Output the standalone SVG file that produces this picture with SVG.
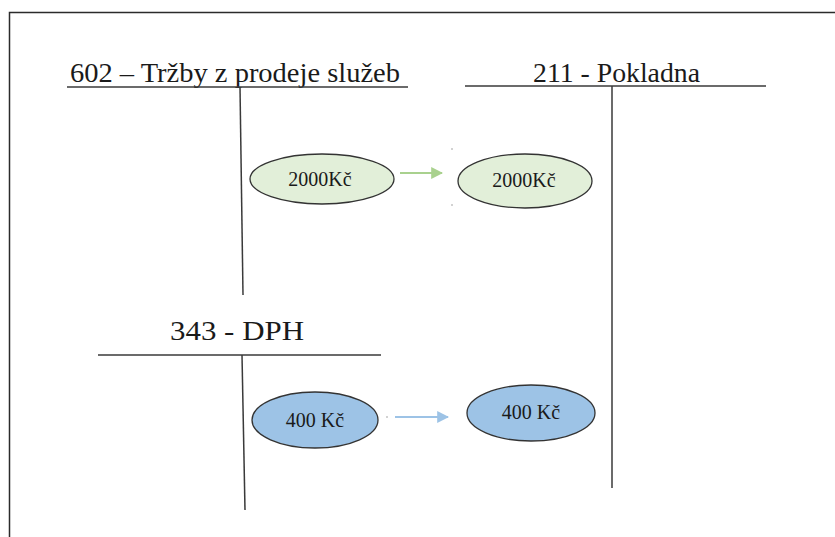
<svg xmlns="http://www.w3.org/2000/svg" width="835" height="537" viewBox="0 0 835 537">
  <style>
    .frame { fill: none; stroke: #2b2b2b; stroke-width: 1.5; }
    .acct { fill: none; stroke: #3a3a3a; stroke-width: 1.5; }
    .title { font-family: "Liberation Serif", "Times New Roman", serif; font-size: 28px; fill: #1a1a1a; }
    .amt { font-family: "Liberation Serif", "Times New Roman", serif; font-size: 20px; fill: #1a1a1a; text-anchor: middle; }
    .green { fill: #e2efd9; stroke: #333; stroke-width: 1.3; }
    .blue { fill: #9dc3e6; stroke: #333; stroke-width: 1.3; }
    .arrow-g { stroke: #a9d18e; stroke-width: 2; fill: none; }
    .arrow-b { stroke: #9dc3e6; stroke-width: 2; fill: none; }
    .dot { fill: #9a9a9a; }
  </style>
  <defs>
    <marker id="head-g" viewBox="0 0 10 10" refX="9" refY="5" markerWidth="6" markerHeight="6" markerUnits="strokeWidth" orient="auto">
      <path d="M0,0 L10,5 L0,10 z" fill="#a9d18e"/>
    </marker>
    <marker id="head-b" viewBox="0 0 10 10" refX="9" refY="5" markerWidth="6" markerHeight="6" markerUnits="strokeWidth" orient="auto">
      <path d="M0,0 L10,5 L0,10 z" fill="#9dc3e6"/>
    </marker>
  </defs>

  <rect width="835" height="537" fill="#ffffff"/>

  <!-- outer frame (top and left edges) -->
  <path class="frame" d="M9.5,537 V12.5 H835"/>

  <!-- T-account 602 -->
  <g id="acct-602">
    <text class="title" x="70" y="82" textLength="330" lengthAdjust="spacingAndGlyphs">602 – Tržby z prodeje služeb</text>
    <line class="acct" x1="67" y1="87" x2="408" y2="87"/>
    <line class="acct" x1="240" y1="87" x2="243" y2="295"/>
  </g>

  <!-- T-account 211 -->
  <g id="acct-211">
    <text class="title" x="533" y="82" textLength="167" lengthAdjust="spacingAndGlyphs">211 - Pokladna</text>
    <line class="acct" x1="465" y1="86" x2="766" y2="86"/>
    <line class="acct" x1="612" y1="86" x2="612" y2="488"/>
  </g>

  <!-- T-account 343 -->
  <g id="acct-343">
    <text class="title" x="170" y="340" textLength="134" lengthAdjust="spacingAndGlyphs">343 - DPH</text>
    <line class="acct" x1="98" y1="355" x2="381" y2="355"/>
    <line class="acct" x1="242" y1="355" x2="245" y2="510"/>
  </g>

  <!-- amounts -->
  <g id="amt-602">
    <ellipse class="green" cx="322" cy="179" rx="72" ry="25"/>
    <text class="amt" x="320" y="186">2000Kč</text>
  </g>
  <g id="amt-211-sale">
    <ellipse class="green" cx="525" cy="181" rx="67" ry="27"/>
    <text class="amt" x="524" y="187">2000Kč</text>
  </g>
  <g id="amt-343">
    <ellipse class="blue" cx="315" cy="420" rx="63" ry="28"/>
    <text class="amt" x="315" y="427">400 Kč</text>
  </g>
  <g id="amt-211-vat">
    <ellipse class="blue" cx="531" cy="413" rx="64" ry="28"/>
    <text class="amt" x="531" y="419">400 Kč</text>
  </g>

  <!-- connectors -->
  <g id="connectors">
    <line class="arrow-g" x1="400" y1="173" x2="442" y2="173" marker-end="url(#head-g)"/>
    <line class="arrow-b" x1="395" y1="417" x2="448" y2="417" marker-end="url(#head-b)"/>
    <circle class="dot" cx="452" cy="149" r="0.8"/>
    <circle class="dot" cx="452" cy="205" r="0.8"/>
    <circle class="dot" cx="387" cy="417" r="0.8"/>
  </g>
</svg>
